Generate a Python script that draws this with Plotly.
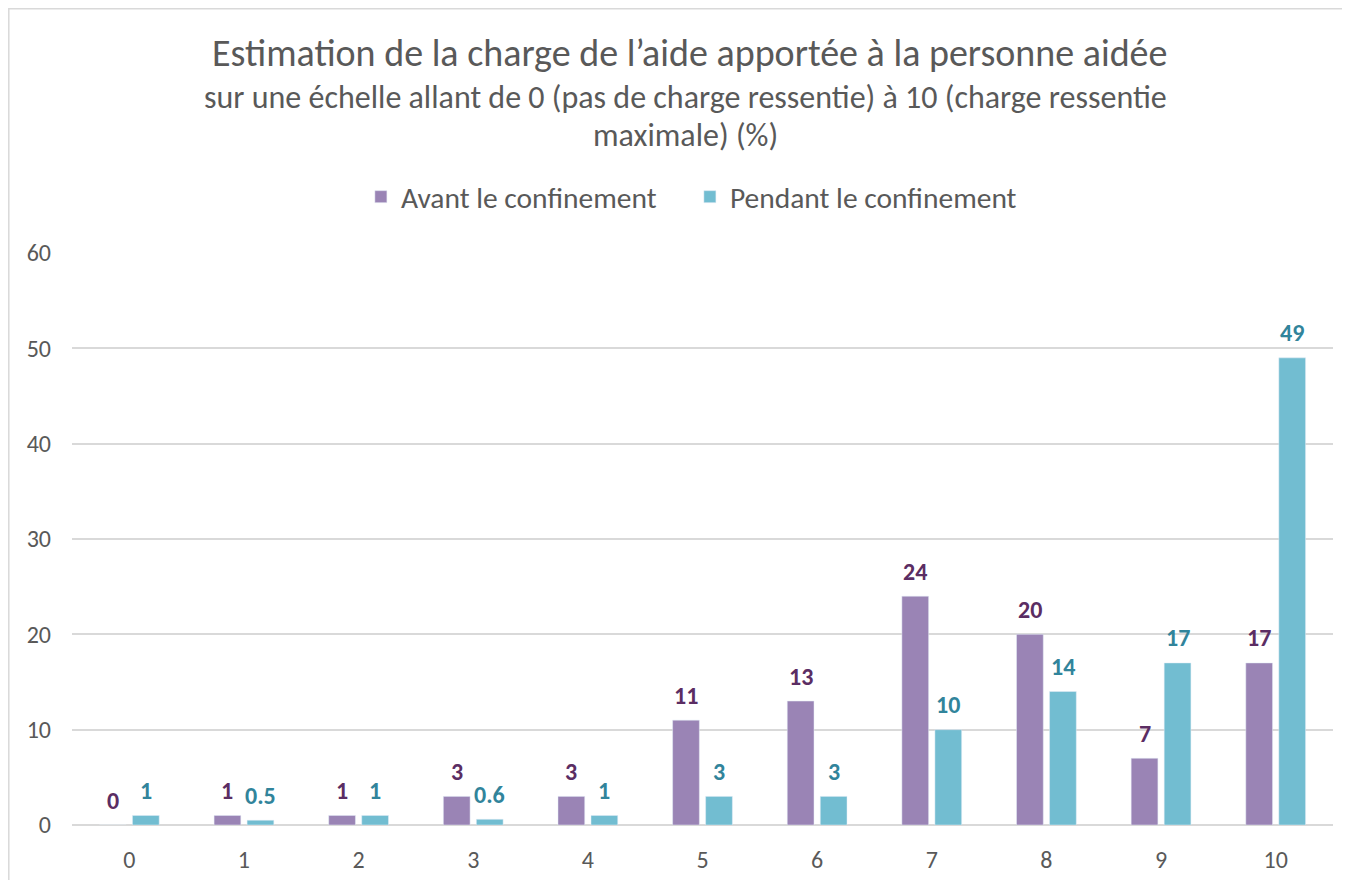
import plotly.graph_objects as go

categories = ["0", "1", "2", "3", "4", "5", "6", "7", "8", "9", "10"]
avant = [0, 1, 1, 3, 3, 11, 13, 24, 20, 7, 17]
pendant = [1, 0.5, 1, 0.6, 1, 3, 3, 10, 14, 17, 49]
avant_labels = ["0", "1", "1", "3", "3", "11", "13", "24", "20", "7", "17"]
pendant_labels = ["1", "0.5", "1", "0.6", "1", "3", "3", "10", "14", "17", "49"]
y_ticks = [0, 10, 20, 30, 40, 50, 60]

FONT = "Carlito, Lato, sans-serif"
GREY = "#595959"
PURPLE = "#9A84B5"
TEAL = "#72BDD1"
PURPLE_TXT = "#5B2D63"
TEAL_TXT = "#31849B"

fig = go.Figure()
fig.add_trace(go.Bar(x=categories, y=avant, name="Avant le confinement",
                     marker=dict(color=PURPLE)))
fig.add_trace(go.Bar(x=categories, y=pendant, name="Pendant le confinement",
                     marker=dict(color=TEAL)))

annotations = []
for cat, v, lab in zip(categories, avant, avant_labels):
    annotations.append(dict(x=cat, y=v, xref="x", yref="y", text=lab, showarrow=False,
                            xshift=-16.5, yshift=25, yanchor="middle",
                            font=dict(family=FONT, size=24, color=PURPLE_TXT, weight="bold")))
for cat, v, lab in zip(categories, pendant, pendant_labels):
    annotations.append(dict(x=cat, y=v, xref="x", yref="y", text=lab, showarrow=False,
                            xshift=16.5, yshift=25, yanchor="middle",
                            font=dict(family=FONT, size=24, color=TEAL_TXT, weight="bold")))

annotations += [
    dict(text="sur une échelle allant de 0 (pas de charge ressentie) à 10 (charge ressentie",
         xref="paper", yref="paper", x=0.4865, y=(825 - 98) / 572, xanchor="center",
         yanchor="middle", showarrow=False, font=dict(family=FONT, size=32, color=GREY)),
    dict(text="maximale) (%)",
         xref="paper", yref="paper", x=0.4865, y=(825 - 135) / 572, xanchor="center",
         yanchor="middle", showarrow=False, font=dict(family=FONT, size=32, color=GREY)),
]

fig.update_layout(
    width=1350, height=880,
    margin=dict(l=64, r=25, t=245, b=63),
    paper_bgcolor="white", plot_bgcolor="white",
    font=dict(family=FONT, color=GREY),
    barmode="group", bargap=0.424, bargroupgap=0.19,
    title=dict(
        text="Estimation de la charge de l’aide apportée à la personne aidée",
        x=0.505, xanchor="center", y=1 - 45 / 880, yanchor="middle",
        font=dict(family=FONT, size=38, color=GREY),
    ),
    showlegend=True,
    legend=dict(
        orientation="h", x=0.49, xanchor="center", y=(825 - 197) / 572, yanchor="middle",
        font=dict(family=FONT, size=29.5, color=GREY),
        entrywidth=284,
    ),
    xaxis=dict(
        type="category", showgrid=False, showline=False, ticks="",
        ticklabelstandoff=18,
        tickfont=dict(family=FONT, size=24, color=GREY),
    ),
    yaxis=dict(
        range=[0, 60], tickvals=y_ticks, showgrid=True, gridcolor="#D9D9D9",
        gridwidth=1.5, zeroline=True, zerolinecolor="#D9D9D9", zerolinewidth=1.5,
        showline=False, ticks="", ticklabelstandoff=20,
        tickfont=dict(family=FONT, size=24, color=GREY),
    ),
    annotations=annotations,
    shapes=[
        dict(type="rect", xref="paper", yref="paper",
             x0=(8.8 - 72) / 1261, x1=1.1, y0=-0.3, y1=(825 - 8.8) / 572,
             line=dict(color="#D9D9D9", width=1.5), fillcolor="rgba(0,0,0,0)", layer="below"),
    ],
)

fig.write_html("out.html")
